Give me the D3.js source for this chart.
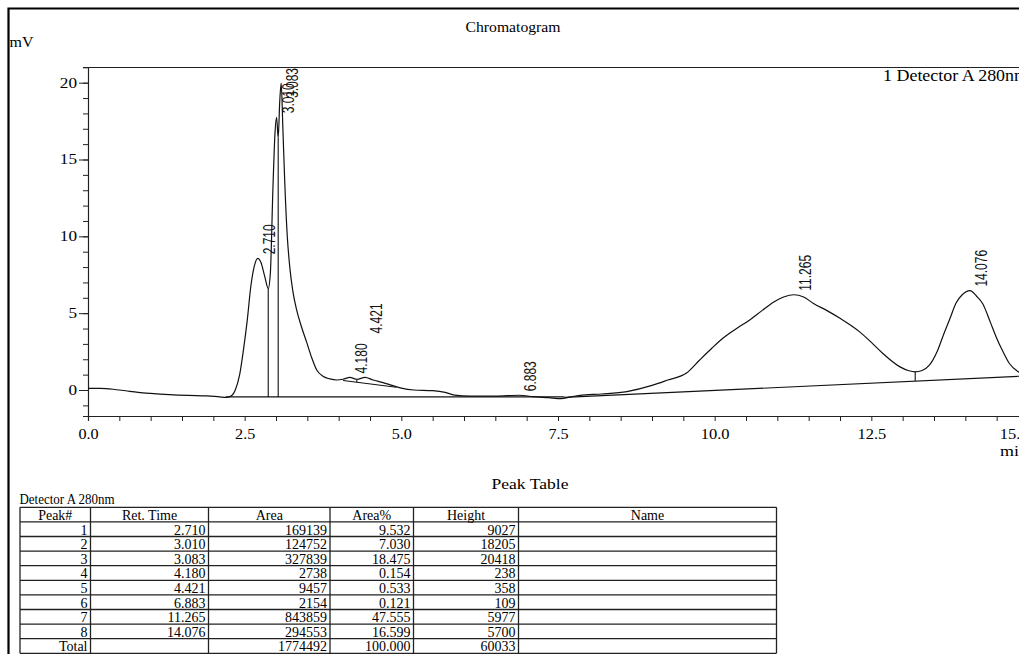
<!DOCTYPE html>
<html>
<head>
<meta charset="utf-8">
<script src="https://cdn.jsdelivr.net/npm/d3@7"></script>
<style>
  body { margin: 0; background: #fff; }
  svg { display: block; }
</style>
</head>
<body>
<svg id="chart" width="1019" height="654"></svg>
<script>
// Detector trace (retention time in min, signal in mV)
const traceTime = [
  0.00, 0.20, 0.40, 0.60, 0.80, 1.00, 1.30, 1.60, 1.90, 2.10, 2.20, 2.28, 2.35, 2.42, 2.48,
  2.54, 2.60, 2.65, 2.71, 2.76, 2.82, 2.876, 2.91, 2.95, 2.985, 3.010, 3.035, 3.06, 3.083,
  3.11, 3.14, 3.18, 3.22, 3.27, 3.33, 3.40, 3.49, 3.57, 3.65, 3.75, 3.86, 3.97, 4.07, 4.18,
  4.29, 4.42, 4.55, 4.71, 4.85, 5.00, 5.20, 5.50, 5.70, 5.85, 6.10, 6.50, 6.883, 7.10, 7.35,
  7.55, 7.70, 7.85, 8.20, 8.60, 9.00, 9.25, 9.55, 9.76, 9.95, 10.13, 10.35, 10.56, 10.75,
  10.95, 11.10, 11.265, 11.42, 11.57, 11.80, 12.00, 12.31, 12.50, 12.68, 12.95, 13.10, 13.20,
  13.30, 13.43, 13.55, 13.64, 13.75, 13.85, 13.95, 14.076, 14.18, 14.28, 14.40, 14.49, 14.60,
  14.70, 14.84, 15.00
];
const traceSignal = [
  0.10, 0.10, 0.05, -0.05, -0.15, -0.22, -0.30, -0.35, -0.38, -0.45, -0.48, -0.40, 0.00, 1.00, 2.60,
  4.50, 6.80, 8.00, 8.57, 8.30, 7.40, 6.60, 7.60, 13.0, 16.8, 17.75, 16.40, 18.8, 19.97,
  17.0, 13.5, 10.0, 8.0, 6.4, 5.2, 4.2, 3.1, 2.1, 1.3, 0.90, 0.72, 0.65, 0.70, 0.82,
  0.70, 0.82, 0.65, 0.48, 0.30, 0.12, 0.00, -0.04, -0.15, -0.33, -0.40, -0.40, -0.34, -0.43, -0.50,
  -0.56, -0.45, -0.35, -0.26, -0.10, 0.30, 0.65, 1.10, 1.95, 2.70, 3.37, 4.00, 4.56, 5.15,
  5.75, 6.05, 6.20, 6.05, 5.65, 5.15, 4.67, 3.80, 3.10, 2.39, 1.52, 1.25, 1.18,
  1.25, 1.63, 2.50, 3.47, 4.60, 5.65, 6.20, 6.47, 6.10, 5.60, 4.40, 3.47, 2.50,
  1.74, 1.20, 0.95
];

// Integration baselines: start and end points [time, mV]
const baselineStart = [[2.20, -0.45], [4.07, 0.62], [7.60, -0.48]];
const baselineEnd   = [[7.60, -0.45], [4.92, 0.18], [15.00, 0.92]];
// Vertical drop lines between fused peaks, and short split marks
const dropTimes  = [2.876, 3.035];
const splitTimes = [4.29, 13.20];

// Peak table
const peakNo   = [1, 2, 3, 4, 5, 6, 7, 8];
const retTime  = [2.710, 3.010, 3.083, 4.180, 4.421, 6.883, 11.265, 14.076];
const peakArea = [169139, 124752, 327839, 2738, 9457, 2154, 843859, 294553];
const areaPct  = [9.532, 7.030, 18.475, 0.154, 0.533, 0.121, 47.555, 16.599];
const peakHeight = [9027, 18205, 20418, 238, 358, 109, 5977, 5700];
const totalArea = 1774492, totalPct = 100.000, totalHeight = 60033;
const tableHeaders = ["Peak#", "Ret. Time", "Area", "Area%", "Height", "Name"];

// Axis ticks
const xMinorTicks = d3.range(0, 15.001, 0.5);
const xMajorTicks = [0, 2.5, 5, 7.5, 10, 12.5, 15];
const yMinorTicks = d3.range(-1, 22, 1);
const yMajorTicks = [0, 5, 10, 15, 20];

const svg = d3.select("#chart");
const SERIF = "'Liberation Serif', 'Times New Roman', serif";
const SANS = "'Liberation Sans', Arial, sans-serif";

// width of a printed number in the report's wide serif face
const numWidth = s => s.replace(/\./g, "").length * 8.6 + (s.includes(".") ? 3 : 0);

// outer page frame
svg.append("path")
  .attr("d", "M8.5,654 V8.5 H1019")
  .attr("fill", "none").attr("stroke", "#000").attr("stroke-width", 2.2);

const x = d3.scaleLinear().domain([0, 15]).range([88, 1028]);
const y = d3.scaleLinear().domain([-1.692, 21.02]).range([416, 67]);

// titles
const label = (txt, tx, ty, size, width, anchor) => svg.append("text")
  .attr("x", tx).attr("y", ty).attr("text-anchor", anchor || "start")
  .attr("font-family", SERIF).attr("font-size", size)
  .attr("textLength", width).attr("lengthAdjust", "spacingAndGlyphs").text(txt);
label("Chromatogram", 513, 32, 15, 95, "middle");
label("mV", 9.5, 46.5, 14, 24);
label("1 Detector A 280nm", 883, 81, 16, 145);

// plot frame top line
svg.append("line").attr("x1", x(0)).attr("x2", x(15)).attr("y1", 67.5).attr("y2", 67.5)
  .attr("stroke", "#222").attr("stroke-width", 1.2);

// x axis
const xAxis = svg.append("g").attr("transform", "translate(0,416)")
  .call(d3.axisBottom(x).tickValues(xMinorTicks).tickSize(5).tickPadding(8)
    .tickFormat(d => xMajorTicks.includes(d) ? d.toFixed(1) : ""));
xAxis.select(".domain").attr("stroke", "#222").attr("stroke-width", 1.2);
xAxis.selectAll(".tick line").attr("stroke", "#222");
xAxis.selectAll(".tick text")
  .filter(d => xMajorTicks.includes(d))
  .attr("font-family", SERIF).attr("font-size", 14).attr("fill", "#000")
  .attr("textLength", d => numWidth(d.toFixed(1))).attr("lengthAdjust", "spacingAndGlyphs")
  .filter(d => d === 15).attr("text-anchor", "end");
svg.append("text").attr("x", x(15)).attr("y", 456).attr("text-anchor", "end")
  .attr("font-family", SERIF).attr("font-size", 14)
  .attr("textLength", 28).attr("lengthAdjust", "spacingAndGlyphs").text("min");

// y axis: minor ticks, then labelled major ticks
const yMinor = svg.append("g").attr("transform", "translate(88,0)")
  .call(d3.axisLeft(y).tickValues(yMinorTicks).tickSize(5).tickFormat(""));
yMinor.select(".domain").attr("stroke", "#222").attr("stroke-width", 1.2);
yMinor.selectAll(".tick line").attr("stroke", "#222");
const yMajor = svg.append("g").attr("transform", "translate(88,0)")
  .call(d3.axisLeft(y).tickValues(yMajorTicks).tickSize(9).tickPadding(2).tickFormat(d3.format("d")));
yMajor.select(".domain").remove();
yMajor.selectAll(".tick line").attr("stroke", "#222");
yMajor.selectAll("text").attr("font-family", SERIF).attr("font-size", 14).attr("fill", "#000")
  .attr("textLength", d => numWidth(String(d))).attr("lengthAdjust", "spacingAndGlyphs");

// trace
const trace = traceTime.map((t, i) => [t, traceSignal[i]]);
const line = d3.line().x(d => x(d[0])).y(d => y(d[1])).curve(d3.curveMonotoneX);
svg.append("path").datum(trace).attr("d", line)
  .attr("fill", "none").attr("stroke", "#111").attr("stroke-width", 1.2);

const signalAt = t => {
  const i = d3.bisector(d => d[0]).left(trace, t);
  if (i <= 0) return trace[0][1];
  if (i >= trace.length) return trace[trace.length - 1][1];
  const a = trace[i - 1], b = trace[i];
  return a[1] + (b[1] - a[1]) * (t - a[0]) / (b[0] - a[0]);
};
const baselineAt = t => {
  for (let k = baselineStart.length - 1; k >= 0; k--) {
    const [t0, v0] = baselineStart[k], [t1, v1] = baselineEnd[k];
    if (t >= t0 && t <= t1) return v0 + (v1 - v0) * (t - t0) / (t1 - t0);
  }
  return null;
};

// baselines
baselineStart.forEach((s, k) => {
  svg.append("line")
    .attr("x1", x(s[0])).attr("y1", y(s[1]))
    .attr("x2", x(baselineEnd[k][0])).attr("y2", y(baselineEnd[k][1]))
    .attr("stroke", "#111").attr("stroke-width", 1.1);
});
// drop lines and split marks
dropTimes.concat(splitTimes).forEach(t => {
  svg.append("line")
    .attr("x1", x(t)).attr("x2", x(t))
    .attr("y1", y(signalAt(t))).attr("y2", y(baselineAt(t)))
    .attr("stroke", "#111").attr("stroke-width", 1.1);
});

// peak retention time labels, rotated, nudged up when they would collide
const labelLen = s => s.length * 6.67 - 3.33;
let prev = null;
retTime.forEach(rt => {
  const txt = rt.toFixed(3);
  const px = x(rt) + 17;
  let bottom = y(signalAt(rt)) - 4;
  const len = labelLen(txt);
  if (prev && Math.abs(px - prev.px) < 20 && bottom > prev.bottom - prev.len - 10 && bottom - len < prev.bottom) {
    bottom = prev.bottom - prev.len - 10;
  }
  if (bottom - len < 68) bottom = 68 + len;
  prev = { px, bottom, len };
  svg.append("text")
    .attr("transform", `translate(${px},${bottom}) rotate(-90) scale(1,1.3)`)
    .attr("font-family", SANS).attr("font-size", 12).attr("fill", "#111").text(txt);
});

// Peak table
label("Peak Table", 530, 489, 15, 77, "middle");
label("Detector A 280nm", 19.5, 503.5, 15, 95);

const colX = d3.scaleOrdinal().domain(d3.range(7)).range([20, 90.5, 208.5, 330, 413.5, 518.5, 776.5]);
const rowY = d3.scaleLinear().domain([0, 10]).range([507.3, 653.3]);

const rows = peakNo.map((n, i) => [
  String(n), retTime[i].toFixed(3), String(peakArea[i]), areaPct[i].toFixed(3), String(peakHeight[i]), ""
]);
rows.push(["Total", "", String(totalArea), totalPct.toFixed(3), String(totalHeight), ""]);

const table = svg.append("g");
d3.range(11).forEach(r => {
  table.append("line").attr("x1", colX(0)).attr("x2", colX(6))
    .attr("y1", rowY(r)).attr("y2", rowY(r)).attr("stroke", "#222").attr("stroke-width", 1.3);
});
d3.range(7).forEach(c => {
  table.append("line").attr("x1", colX(c)).attr("x2", colX(c))
    .attr("y1", rowY(0)).attr("y2", rowY(10)).attr("stroke", "#222").attr("stroke-width", 1.3);
});
const cellText = (txt, r, c, anchor) => {
  const tx = anchor === "middle" ? (colX(c) + colX(c + 1)) / 2 : colX(c + 1) - 3;
  table.append("text")
    .attr("transform", `translate(${tx},${rowY(r + 1) - 2}) scale(1,1.1)`)
    .attr("text-anchor", anchor)
    .attr("font-family", SERIF).attr("font-size", 14).text(txt);
};
tableHeaders.forEach((h, c) => cellText(h, 0, c, "middle"));
rows.forEach((row, r) => row.forEach((v, c) => { if (v) cellText(v, r + 1, c, "end"); }));
</script>
</body>
</html>
